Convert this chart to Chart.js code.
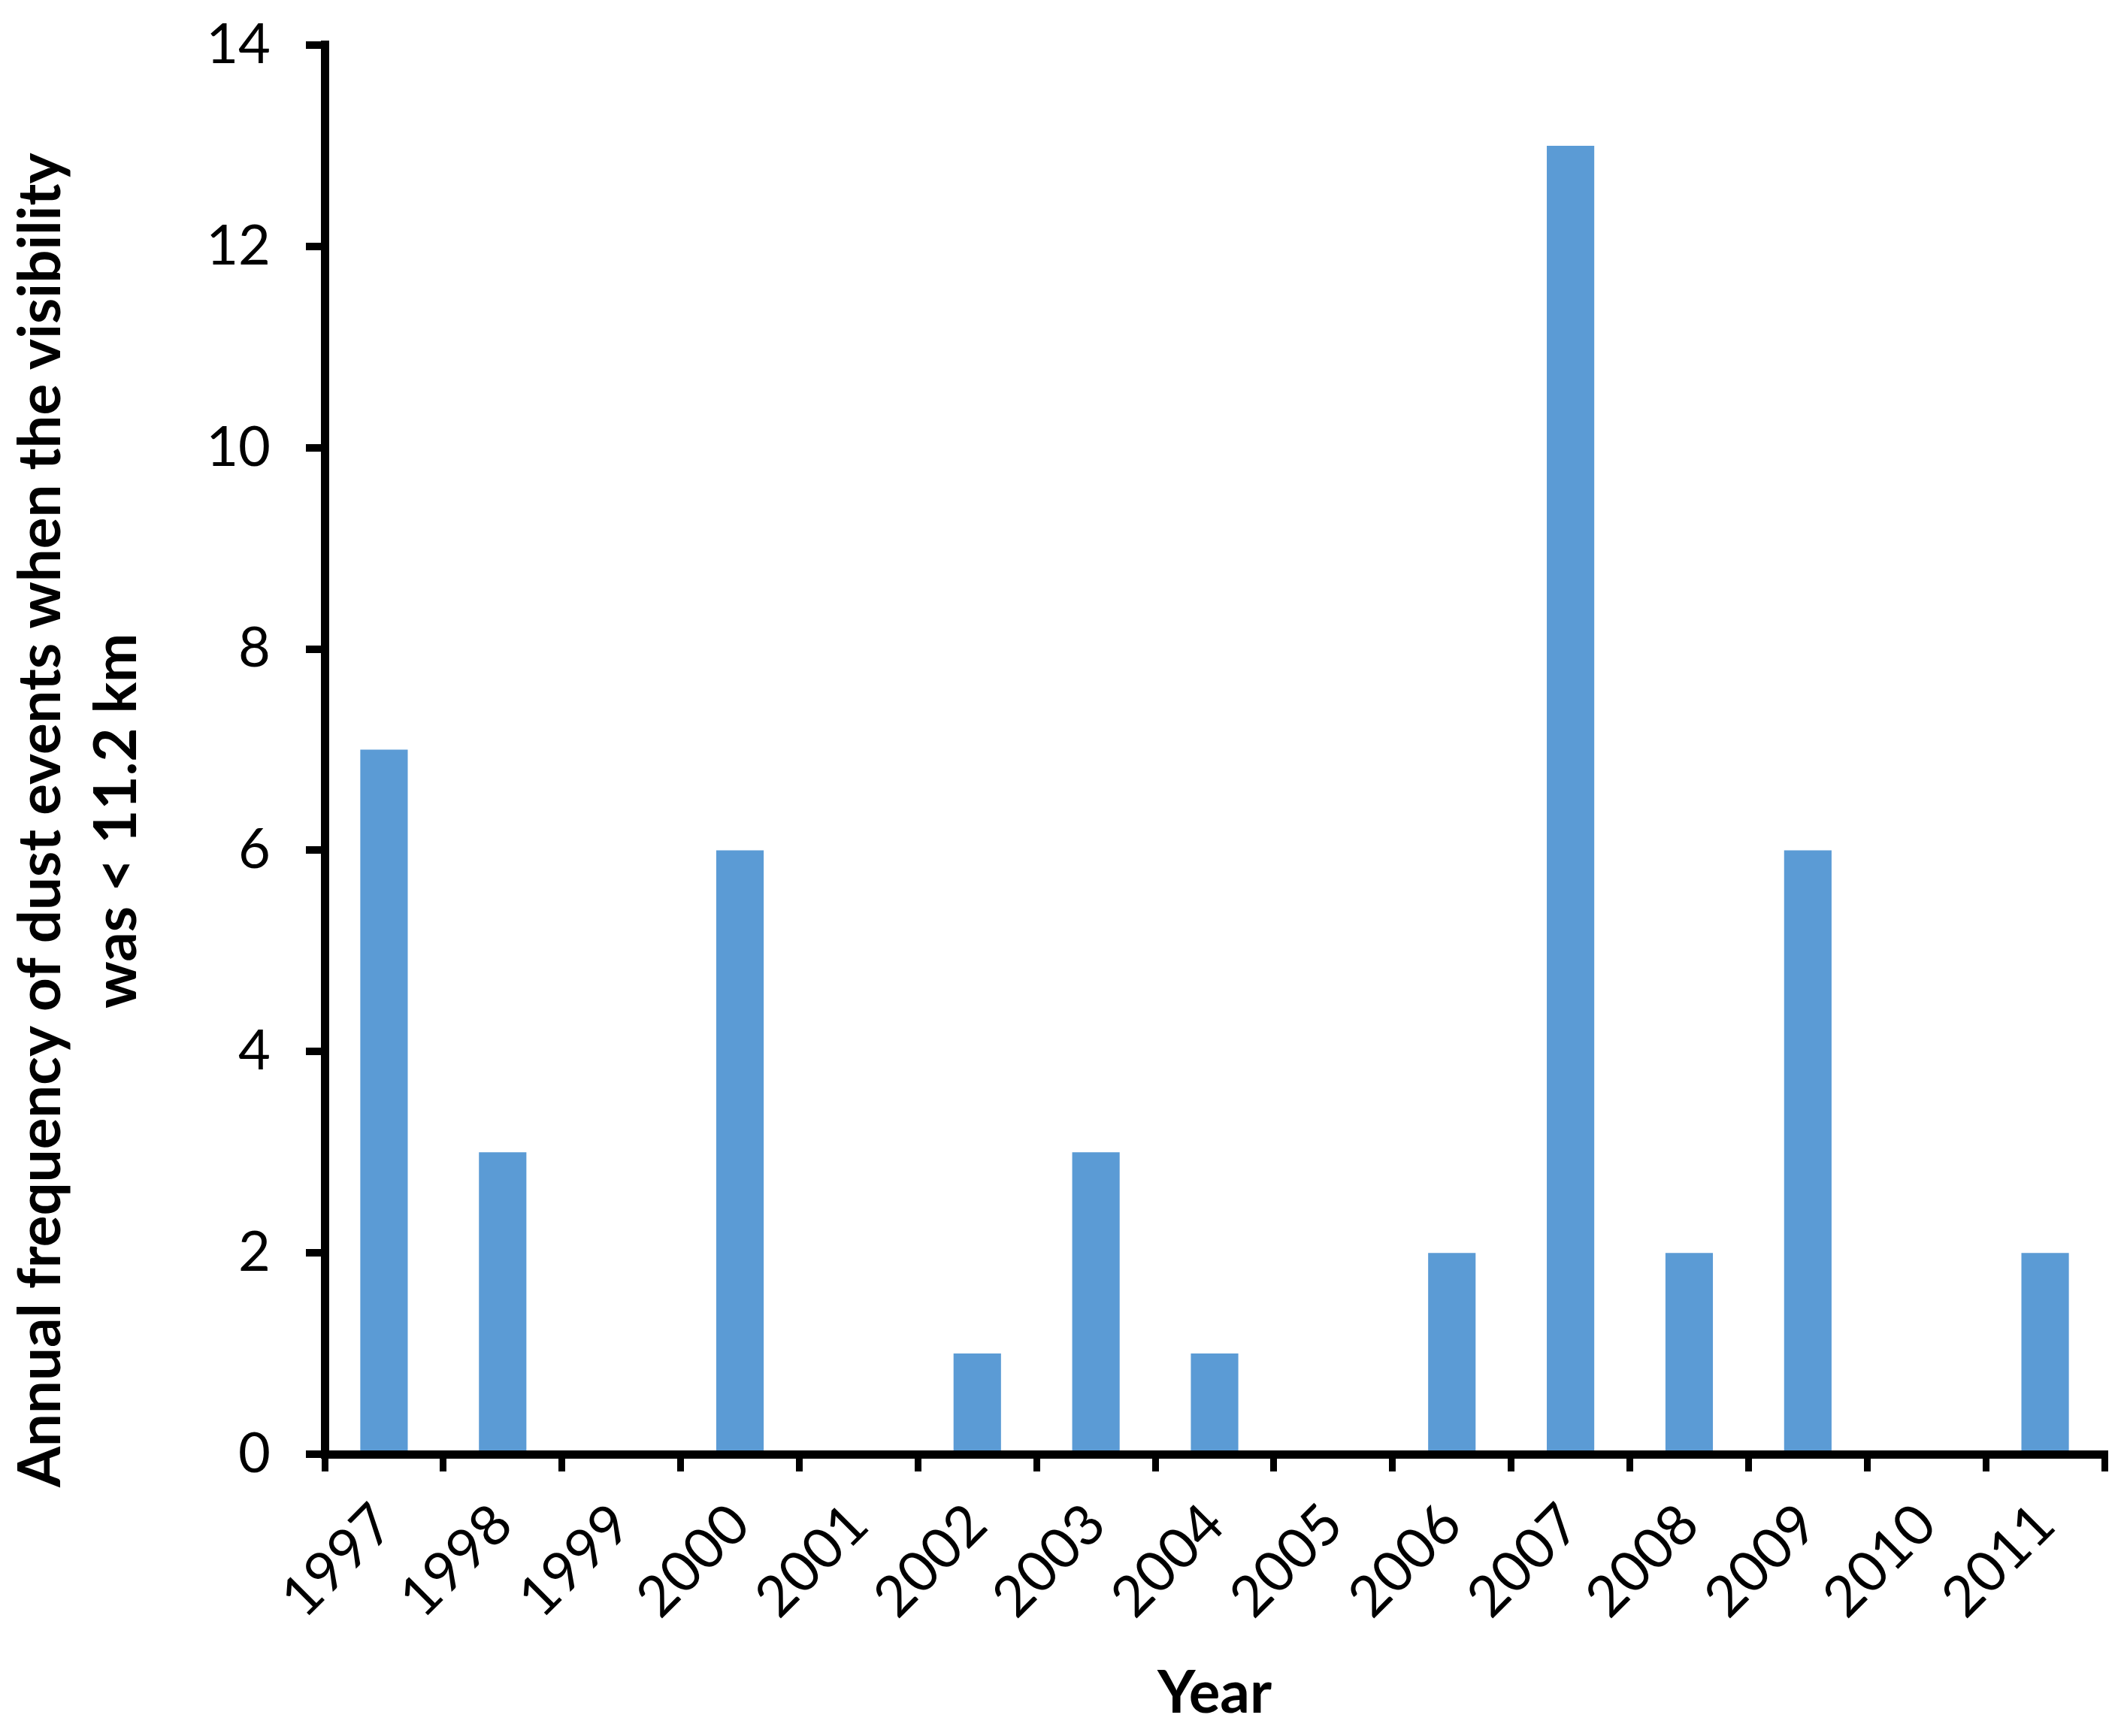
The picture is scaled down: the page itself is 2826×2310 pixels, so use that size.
<!DOCTYPE html>
<html><head><meta charset="utf-8">
<script src="https://cdn.jsdelivr.net/npm/chart.js@4.4.1/dist/chart.umd.min.js"></script>
<style>html,body{margin:0;padding:0;background:#fff}#wrap{width:2826px;height:2310px}</style>
</head><body><div id="wrap"><canvas id="c" width="2826" height="2310"></canvas></div>
<script>
const years = ['1997','1998','1999','2000','2001','2002','2003','2004','2005','2006','2007','2008','2009','2010','2011'];
const frequency = [7, 3, 0, 6, 0, 1, 3, 1, 0, 2, 13, 2, 6, 0, 2];
const yTicks = [0, 2, 4, 6, 8, 10, 12, 14];
const yTitleLines = ['Annual frequency of dust events when the visibility', 'was < 11.2 km'];
const xTitle = 'Year';

const pad = '\u00A0'.repeat(10);

new Chart(document.getElementById('c'), {
  type: 'bar',
  data: {
    labels: years,
    datasets: [{
      data: frequency,
      backgroundColor: '#5B9BD5',
      borderWidth: 0,
      barPercentage: 0.4,
      categoryPercentage: 1
    }]
  },
  options: {
    responsive: false,
    animation: false,
    devicePixelRatio: 1,
    layout: { padding: { left: 0, right: 26, top: 50, bottom: 0 } },
    plugins: { legend: { display: false }, tooltip: { enabled: false } },
    scales: {
      x: {
        offset: true,
        grid: { offset: true, display: true, drawOnChartArea: false, drawTicks: true, tickLength: 23, tickWidth: 9, lineWidth: 9, color: '#000', tickColor: '#000' },
        border: { display: true, color: '#000', width: 11 },
        ticks: { color: '#000', font: { family: 'Lato', size: 75 }, maxRotation: 45, minRotation: 45, autoSkip: false, padding: 26 },
        title: { display: true, text: xTitle, color: '#000', font: { family: 'Lato', size: 78, weight: 'bold' }, padding: { top: 0, bottom: 9 } },
        afterFit(s) { s.height = 375; }
      },
      y: {
        min: 0, max: 14,
        afterBuildTicks(s) { s.ticks = yTicks.map(v => ({ value: v })); },
        grid: { display: true, drawOnChartArea: false, drawTicks: true, tickLength: 25, tickWidth: 10, lineWidth: 10, color: '#000', tickColor: '#000' },
        border: { display: true, color: '#000', width: 11 },
        ticks: { color: '#000', font: { family: 'Lato', size: 74, lineHeight: 0.35 }, padding: 47 },
        title: { display: true, text: yTitleLines.map(t => t + pad), color: '#000', font: { family: 'Lato', size: 78, weight: 'bold', lineHeight: 1.3 }, padding: { top: 4, bottom: 0 } },
        afterFit(s) { s.width = 432; }
      }
    }
  }
});
</script>
</body></html>
